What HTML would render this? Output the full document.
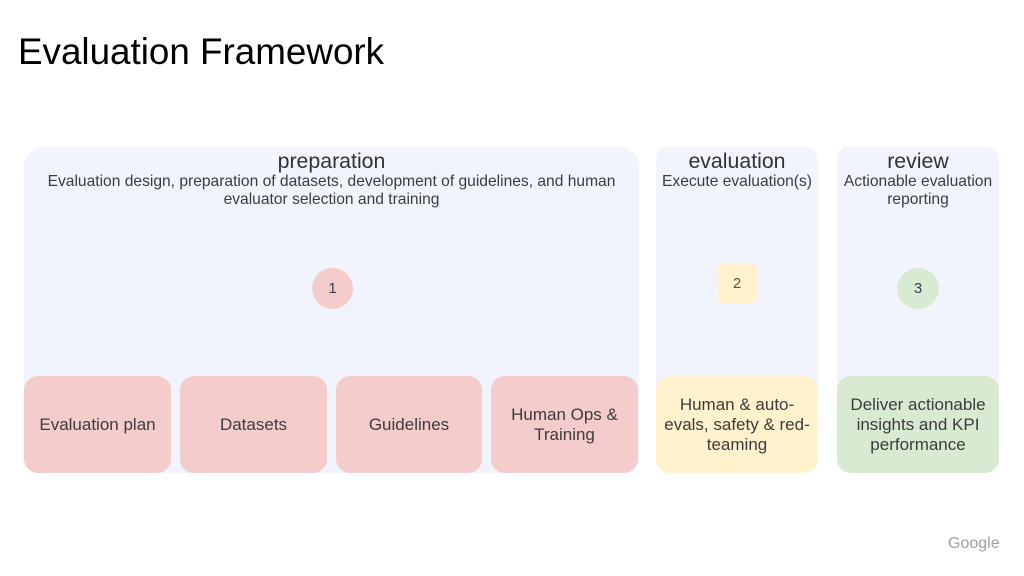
<!DOCTYPE html>
<html><head><style>
body{margin:0;width:1024px;height:576px;background:#fff;position:relative;overflow:hidden;font-family:"Liberation Sans",Arial,sans-serif;color:#3c3c3c}
div{position:absolute;box-sizing:border-box}
.p{background:#f1f4fc}
.h{text-align:center;font-size:21.3px;line-height:24px;color:#333}
.s{text-align:center;font-size:15.6px;line-height:18px;color:#3c3c3c}
.b{border-radius:14px;display:flex;align-items:center;justify-content:center;text-align:center;font-size:17px;line-height:20px;color:#3c3c3c;top:376px;height:97px}
.r{background:#f4cccc}
</style></head><body>
<div style="left:18px;top:30px;font-size:36.8px;line-height:44px;color:#000">Evaluation Framework</div>
<div class="p" style="left:24px;top:147px;width:615px;height:326px;border-radius:20px 20px 14px 14px"></div>
<div class="p" style="left:656px;top:147px;width:162px;height:326px;border-radius:12px 12px 14px 14px"></div>
<div class="p" style="left:837px;top:147px;width:162px;height:326px;border-radius:12px 12px 14px 14px"></div>
<div class="h" style="left:24px;top:149px;width:615px">preparation</div>
<div class="s" style="left:34px;top:173px;width:595px">Evaluation design, preparation of datasets, development of guidelines, and human evaluator selection and training</div>
<div class="h" style="left:656px;top:149px;width:162px">evaluation</div>
<div class="s" style="left:652px;top:173px;width:170px">Execute evaluation(s)</div>
<div class="h" style="left:837px;top:149px;width:162px">review</div>
<div class="s" style="left:837px;top:173px;width:162px">Actionable evaluation reporting</div>
<div style="left:312px;top:268px;width:41px;height:41px;border-radius:50%;background:#f4cccc;text-align:center;line-height:41px;font-size:15px;color:#3c3c5a">1</div>
<div style="left:717px;top:264px;width:40px;height:39px;border-radius:6px;background:#fff2cc;text-align:center;line-height:39px;font-size:15px;color:#5a5a30">2</div>
<div style="left:897px;top:268px;width:42px;height:41px;border-radius:50%;background:#d9ead3;text-align:center;line-height:41px;font-size:15px;color:#3c3c5a">3</div>
<div class="b r" style="left:24px;width:147px">Evaluation plan</div>
<div class="b r" style="left:180px;width:147px">Datasets</div>
<div class="b r" style="left:336px;width:146px">Guidelines</div>
<div class="b r" style="left:491px;width:147px">Human Ops &amp;<br>Training</div>
<div class="b" style="left:656px;width:162px;background:#fff2cc;padding:0 6px">Human &amp; auto-evals, safety &amp; red-teaming</div>
<div class="b" style="left:837px;width:162px;background:#d9ead3;padding:0 6px">Deliver actionable insights and KPI performance</div>
<div style="left:948px;top:535px;font-size:16px;color:#9aa0a6">Google</div>
</body></html>
